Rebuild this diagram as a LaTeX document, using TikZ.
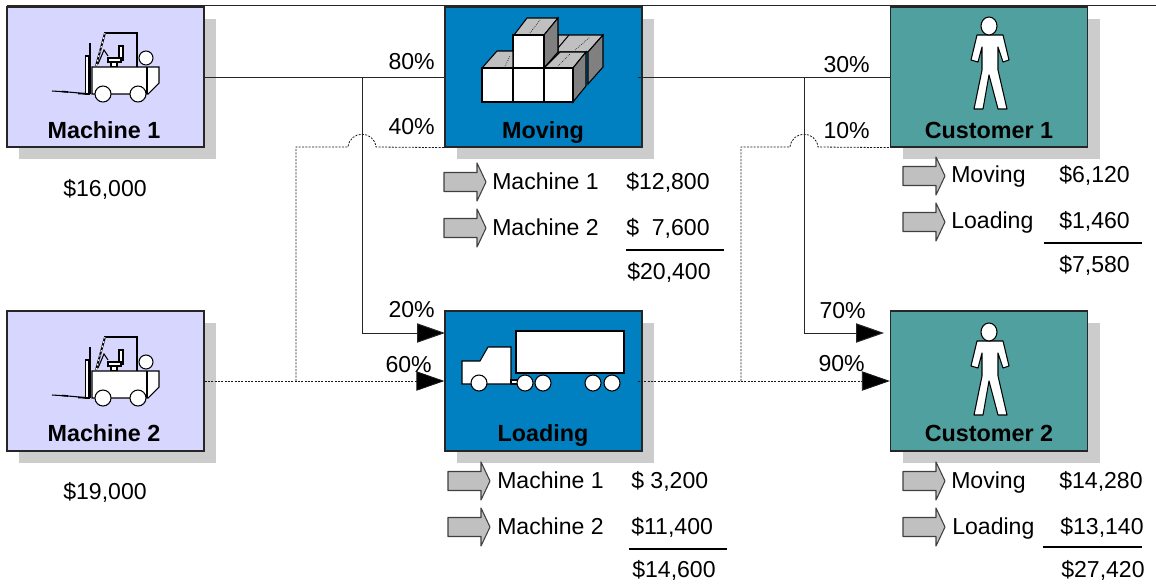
\documentclass[tikz,border=0pt]{standalone}
\usepackage{xcolor}
\usepackage{fontspec}
\setmainfont{Liberation Sans}
\usepackage{tikz}
\usetikzlibrary{shadows,arrows.meta}

\definecolor{machinefill}{HTML}{D6D6FF}
\definecolor{processfill}{HTML}{0080C0}
\definecolor{customerfill}{HTML}{50A0A0}
\definecolor{shadowgray}{HTML}{CCCCCC}
\definecolor{topgray}{HTML}{C0C0C0}
\definecolor{sidegray}{HTML}{808080}

\tikzset{
	pics/forklift/.style={code={
		% Lift mast and forks
		\draw[line width=0.8pt] (52,91) -- (68,92) -- (90,94);
		\draw[line width=1.2pt] (62,91.5) -- (68,92) (78,93.5) -- (90,94);
		\draw[line width=1.3pt] (90,43) -- (90,94);
		\draw[line width=0.8pt, fill=white] (85.5,56) rectangle (88.5,94);
		% Cage and seat
		\draw[line width=1.4pt] (96,66) -- (105,33) -- (137,33) -- (137,67);
		\draw[line width=0.7pt, white, dash pattern=on 1.5pt off 2pt] (96,66) -- (105,33);
		\draw[line width=0.8pt] (98,64) -- (104,50) -- (108,56);
		\draw[line width=0.8pt, fill=white] (119,46) rectangle (123,60);
		\draw[line width=0.8pt, fill=white] (108,58) rectangle (121,62);
		\draw[line width=0.8pt, fill=white] (111,62) rectangle (117,67);
		% Body, driver and wheels
		\draw[line width=0.8pt, fill=white] (92,67) -- (159,67) -- (159,83) -- (148,94) -- (92,94) -- cycle;
		\draw[line width=0.8pt] (147,67) -- (147,94);
		\draw[line width=0.8pt, fill=white] (146,58) circle (7);
		\draw[line width=0.8pt, fill=white] (103,94) circle (8);
		\draw[line width=0.8pt, fill=white] (138,94) circle (8);
	}},
	pics/person/.style={code={
		\draw[line width=0.8pt, fill=white, line join=round]
			(977,35) -- (1003,35) -- (1009,60) -- (1003,62) -- (998,47) -- (998,70)
			-- (1007,109) -- (998,109) -- (989,75) -- (983,109) -- (974,109)
			-- (982,70) -- (982,47) -- (978,62) -- (971,60) -- cycle;
		\draw[line width=0.8pt, fill=white] (989,26) ellipse (8 and 9);
	}},
	pics/cubes/.style={code={
		% Back row
		\draw[line width=0.8pt, fill=topgray] (558,35) -- (603,35) -- (588,52) -- (558,52) -- cycle;
		\draw[line width=0.8pt] (569,35) -- (558,48);
		\draw[line width=0.8pt, fill=sidegray] (588,52) -- (603,35) -- (603,67) -- (588,84) -- cycle;
		% Tall stack
		\draw[line width=0.8pt, fill=topgray] (514,35) -- (527,18) -- (558,18) -- (544,35) -- cycle;
		\draw[line width=0.8pt, fill=sidegray] (544,35) -- (558,18) -- (558,52) -- (544,68) -- cycle;
		\draw[line width=0.8pt, fill=white] (513,35) rectangle (544,68);
		% Front row
		\draw[line width=0.8pt, fill=topgray] (482,68) -- (497,51) -- (513,51) -- (513,68) -- cycle;
		\draw[line width=0.8pt, fill=topgray] (544,68) -- (560,52) -- (586,52) -- (573,68) -- cycle;
		\draw[line width=0.8pt, fill=sidegray] (573,68) -- (586,52) -- (586,86) -- (573,102) -- cycle;
		\draw[line width=0.8pt, fill=white] (482,68) rectangle (513,102);
		\draw[line width=0.8pt, fill=white] (513,68) rectangle (544,102);
		\draw[line width=0.8pt, fill=white] (544,68) rectangle (573,102);
		% Specks on the lids
		\draw[line width=0.5pt, densely dotted] (530,33) -- (540,20) (505,66) -- (510,56) (558,66) -- (570,54) (575,50) -- (590,37);
	}},
	pics/truck/.style={code={
		\draw[line width=0.8pt, fill=white] (516,331) rectangle (624,373);
		\draw[line width=0.8pt, fill=white] (462,361) -- (480,361) -- (488,347) -- (511,347) -- (511,384) -- (462,384) -- cycle;
		\draw[line width=0.8pt, fill=white] (511,380) rectangle (518,384);
		\foreach \wheelx in {479,525,543,593,612}
			\draw[line width=0.8pt, fill=white] (\wheelx,383) circle (8);
	}},
	pics/flowarrow/.style={code={
		\draw[line width=0.8pt, draw=black!75, fill=topgray, line join=round]
			(-21,-9.5) -- (12,-9.5) -- (12,-19) -- (21,0) -- (12,19) -- (12,9.5) -- (-21,9.5) -- cycle;
	}}
}

\begin{document}
\begin{tikzpicture}[
	x=0.75pt, y=-0.75pt,
	block/.style={
		rectangle, draw=black!85, line width=0.9pt,
		inner sep=0pt, minimum width=147.75pt, minimum height=105pt,
		drop shadow={shadow xshift=9pt, shadow yshift=-9pt, fill=shadowgray, opacity=1}
	},
	machine/.style={block, fill=machinefill},
	process/.style={block, fill=processfill},
	customer/.style={block, fill=customerfill},
	blocktext/.style={font=\bfseries\fontsize{17.5}{17.5}\selectfont, inner sep=0pt, text height=12.5pt, text depth=0pt},
	plain/.style={font=\fontsize{17.3}{17.3}\selectfont, inner sep=0pt, text height=12.5pt, text depth=0pt},
	item/.style={plain, anchor=west},
	pct/.style={plain, anchor=east},
	solidline/.style={draw=black!85, line width=0.75pt},
	dotline/.style={draw=black!90, line width=0.6pt, dash pattern=on 1.5pt off 1pt},
	bigtip/.style={-{Triangle[length=21pt,width=14.5pt,fill=black]}, tips=on proper draw},
	sumrule/.style={draw=black, line width=1pt}
	]
	\useasboundingbox (0,0) rectangle (1156,586);

	% Boxes
	\node[machine] (mach1) at (105.5,77) {};
	\node[machine] (mach2) at (105.5,381) {};
	\node[process] (moving) at (543.5,77) {};
	\node[process] (loading) at (543.5,381) {};
	\node[customer] (cust1) at (989,77) {};
	\node[customer] (cust2) at (989,381) {};

	% Icons
	\pic at (0,0) {forklift};
	\pic at (0,304) {forklift};
	\pic at (0,0) {cubes};
	\pic at (0,0) {truck};
	\pic at (0,0) {person};
	\pic at (0,306) {person};

	% Box names
	\node[blocktext] (mach1name) at (104,130) {Machine 1};
	\node[blocktext] (mach2name) at (104,433) {Machine 2};
	\node[blocktext] (movingname) at (543,130) {Moving};
	\node[blocktext] (loadingname) at (543,433) {Loading};
	\node[blocktext] (cust1name) at (989,130) {Customer 1};
	\node[blocktext] (cust2name) at (989,433) {Customer 2};

	\node[plain] (mach1cost) at (105,188) {\$16,000};
	\node[plain] (mach2cost) at (105,491) {\$19,000};

	% Junctions and free ends
	\coordinate (topleft) at (7,5.5);
	\coordinate (topright) at (1156,5.5);
	\coordinate (split1) at (362,77);
	\coordinate (split2) at (804,77);
	\coordinate (tap1) at (296,381);
	\coordinate (tap2) at (741,381);
	\coordinate (hop1a) at (348,147);
	\coordinate (hop1b) at (376,147);
	\coordinate (hop2a) at (790,147);
	\coordinate (hop2b) at (818,147);
	\coordinate (loadin) at (445,333);
	\coordinate (custin) at (884,333);

	% Connectors
	\draw[solidline] (topleft) -- (topright);
	\draw[solidline] (mach1) -- (moving);
	\draw[solidline] ([xshift=-3.75pt]moving.east) -- (cust1);
	\draw[solidline, bigtip] (split1) |- (loadin);
	\draw[solidline, bigtip] (split2) |- (custin);
	\draw[dotline, bigtip] (mach2) -- (loading);
	\draw[dotline, bigtip] ([xshift=-3.75pt]loading.east) -- (cust2);
	\draw[dotline] (tap1) |- (hop1a) .. controls (350,130) and (374,130) .. (hop1b) -- (moving.south west);
	\draw[dotline] (tap2) |- (hop2a) .. controls (792,130) and (816,130) .. (hop2b) -- (cust1.south west);

	% Shares
	\node[pct] (pct80) at (435,61) {80\%};
	\node[pct] (pct40) at (435,126) {40\%};
	\node[pct] (pct20) at (435,309) {20\%};
	\node[pct] (pct60) at (432,364) {60\%};
	\node[pct] (pct30) at (870,64) {30\%};
	\node[pct] (pct10) at (870,130) {10\%};
	\node[pct] (pct70) at (866,310) {70\%};
	\node[pct] (pct90) at (865,363) {90\%};

	% Moving costs
	\pic at (465,182) {flowarrow};
	\pic at (465,228) {flowarrow};
	\node[item] (movlab1) at (492,181) {Machine 1};
	\node[item] (movlab2) at (492,227) {Machine 2};
	\node[item] (movval1) at (626,181) {\$12,800};
	\node[item] (movval2) at (626,227) {\$\ \ 7,600};
	\node[item] (movsum) at (627,271) {\$20,400};
	\coordinate (movrulea) at (626,250);
	\coordinate (movruleb) at (724,250);
	\draw[sumrule] (movrulea) -- (movruleb);

	% Loading costs
	\pic at (469,481) {flowarrow};
	\pic at (469,527) {flowarrow};
	\node[item] (loadlab1) at (497,480) {Machine 1};
	\node[item] (loadlab2) at (497,526) {Machine 2};
	\node[item] (loadval1) at (631,480) {\$ 3,200};
	\node[item] (loadval2) at (631,526) {\$11,400};
	\node[item] (loadsum) at (632,569) {\$14,600};
	\coordinate (loadrulea) at (629,549);
	\coordinate (loadruleb) at (727,549);
	\draw[sumrule] (loadrulea) -- (loadruleb);

	% Customer 1 costs
	\pic at (924,176) {flowarrow};
	\pic at (924,222) {flowarrow};
	\node[item] (c1lab1) at (951,174) {Moving};
	\node[item] (c1lab2) at (951,220) {Loading};
	\node[item] (c1val1) at (1059,174) {\$6,120};
	\node[item] (c1val2) at (1059,220) {\$1,460};
	\node[item] (c1sum) at (1059,264) {\$7,580};
	\coordinate (c1rulea) at (1044,243);
	\coordinate (c1ruleb) at (1142,243);
	\draw[sumrule] (c1rulea) -- (c1ruleb);

	% Customer 2 costs
	\pic at (924,481) {flowarrow};
	\pic at (924,527) {flowarrow};
	\node[item] (c2lab1) at (951,480) {Moving};
	\node[item] (c2lab2) at (952,526) {Loading};
	\node[item] (c2val1) at (1059,480) {\$14,280};
	\node[item] (c2val2) at (1060,526) {\$13,140};
	\node[item] (c2sum) at (1061,569) {\$27,420};
	\coordinate (c2rulea) at (1043,547);
	\coordinate (c2ruleb) at (1142,547);
	\draw[sumrule] (c2rulea) -- (c2ruleb);
\end{tikzpicture}
\end{document}
